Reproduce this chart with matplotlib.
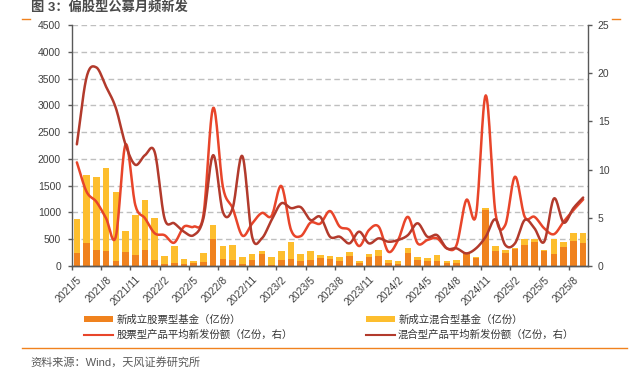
import numpy as np
import matplotlib
matplotlib.use("Agg")
from matplotlib import pyplot as plt
from matplotlib.lines import Line2D
from matplotlib.patches import Patch

plt.rcParams["font.family"] = ["Liberation Sans", "Noto Sans CJK SC"]

# 月份 2021/5 - 2025/9
months = [
    "2021/5", "2021/6", "2021/7", "2021/8", "2021/9", "2021/10", "2021/11", "2021/12",
    "2022/1", "2022/2", "2022/3", "2022/4", "2022/5", "2022/6", "2022/7", "2022/8",
    "2022/9", "2022/10", "2022/11", "2022/12", "2023/1", "2023/2", "2023/3", "2023/4",
    "2023/5", "2023/6", "2023/7", "2023/8", "2023/9", "2023/10", "2023/11", "2023/12",
    "2024/1", "2024/2", "2024/3", "2024/4", "2024/5", "2024/6", "2024/7", "2024/8",
    "2024/9", "2024/10", "2024/11", "2024/12", "2025/1", "2025/2", "2025/3", "2025/4",
    "2025/5", "2025/6", "2025/7", "2025/8", "2025/9",
]

# 新成立股票型基金（亿份）
stock_new = [237, 425, 300, 281, 100, 269, 200, 300, 112, 31, 50, 30, 50, 81, 506, 125,
             112, 31, 112, 220, 19, 120, 137, 87, 112, 143, 137, 87, 187, 50, 162, 187,
             50, 37, 249, 112, 100, 100, 62, 62, 235, 156, 1050, 286, 249, 311, 385, 455,
             274, 225, 358, 470, 428]
# 新成立混合型基金（亿份）
hybrid_new = [638, 1281, 1369, 1556, 1287, 393, 744, 931, 788, 150, 325, 101, 50, 156, 256, 250,
              282, 134, 113, 63, 141, 166, 313, 138, 163, 62, 50, 75, 80, 37, 62, 112,
              56, 50, 81, 50, 49, 99, 25, 44, 15, 12, 35, 87, 50, 19, 115, 45,
              25, 280, 97, 141, 196]
# 股票型产品平均新发份额（亿份，右）
stock_avg = [10.75, 7.7, 6.67, 4.95, 3.04, 12.6, 6.33, 4.95, 3.39, 3.2, 2.42, 4.08, 4.08,
             5.3, 16.4, 8.2, 6.0, 3.15, 4.4, 5.5, 5.2, 8.3, 3.73, 3.1, 4.5, 4.4, 5.7, 4.08,
             3.73, 2.07, 3.73, 4.08, 1.48, 2.7, 5.1, 2.35, 2.7, 2.87, 1.83, 2.18, 6.85, 5.3,
             17.7, 5.47, 4.25, 9.26, 5.1, 5.1, 3.91, 3.3, 4.6, 5.8, 6.9]
# 混合型产品平均新发份额（亿份，右）
hybrid_avg = [12.62, 19.6, 20.6, 18.6, 16.4, 12.6, 10.5, 11.5, 11.8, 4.95, 4.43, 3.56, 3.2,
              4.95, 11.5, 5.6, 6.0, 11.4, 3.04, 2.87, 4.77, 6.5, 6.0, 6.1, 4.77, 5.1, 3.04,
              3.04, 2.35, 3.56, 2.35, 2.87, 2.52, 2.7, 3.2, 4.43, 3.04, 3.2, 1.83, 1.83, 1.31,
              1.83, 3.04, 4.84, 2.18, 2.35, 4.77, 3.91, 2.52, 7.0, 4.5, 6.0, 7.1]

c_stock = "#F0821E"
c_hybrid = "#FDBE2E"
c_stock_line = "#E8452A"
c_hybrid_line = "#B23A2C"
c_axis = "#595959"


def smooth(y, n=16):
    # catmull-rom 平滑线，类似 excel 的平滑曲线
    y = np.asarray(y, float)
    p = np.concatenate([[2 * y[0] - y[1]], y, [2 * y[-1] - y[-2]]])
    t = np.linspace(0, 1, n, endpoint=False)
    xs, ys = [], []
    for i in range(len(y) - 1):
        p0, p1, p2, p3 = p[i], p[i + 1], p[i + 2], p[i + 3]
        seg = 0.5 * (2 * p1 + (p2 - p0) * t + (2 * p0 - 5 * p1 + 4 * p2 - p3) * t ** 2
                     + (3 * p1 - p0 - 3 * p2 + p3) * t ** 3)
        xs.append(i + t)
        ys.append(seg)
    xs.append([len(y) - 1])
    ys.append([y[-1]])
    return np.concatenate(xs), np.concatenate(ys)


x = np.arange(len(months))

fig = plt.figure(figsize=(6.35, 3.81), dpi=100)
ax1 = fig.add_axes([72 / 635, 1 - 266 / 381, 516 / 635, 241 / 381])

ax1.bar(x, stock_new, width=0.68, color=c_stock, zorder=2)
ax1.bar(x, hybrid_new, width=0.68, bottom=stock_new, color=c_hybrid, zorder=2)
ax1.set_ylim(0, 4500)
ax1.set_yticks(np.arange(0, 4501, 500))
ax1.set_xlim(-0.5, len(months) - 0.5)
ax1.yaxis.grid(True, color="#BFBFBF", linestyle=(0, (4, 2.5)), linewidth=1, zorder=0)
ax1.set_axisbelow(True)

ax2 = ax1.twinx()
sx, sy = smooth(stock_avg)
ax2.plot(sx, sy, color=c_stock_line, lw=1.8, solid_capstyle="round")
hx, hy = smooth(hybrid_avg)
ax2.plot(hx, hy, color=c_hybrid_line, lw=1.8, solid_capstyle="round")
ax2.set_ylim(0, 25)
ax2.set_yticks(np.arange(0, 26, 5))

for a in (ax1, ax2):
    a.spines["top"].set_visible(False)
    for s in ("left", "right", "bottom"):
        a.spines[s].set_color(c_axis)
        a.spines[s].set_linewidth(1)
ax1.spines["right"].set_visible(False)
ax2.spines["left"].set_visible(False)

ax1.tick_params(axis="y", length=3, width=1, color=c_axis, pad=5, labelsize=7.5, labelcolor="#404040")
ax2.tick_params(axis="y", length=3, width=1, color=c_axis, pad=4, labelsize=7.5, labelcolor="#404040")

lab_pos = x[::3]
ax1.set_xticks(lab_pos)
ax1.set_xticklabels(months[::3], rotation=45, ha="right", rotation_mode="anchor",
                    fontsize=7.5, color="#404040")
ax1.tick_params(axis="x", which="major", length=0, pad=6)
ax1.set_xticks(lab_pos - 0.5, minor=True)
ax1.tick_params(axis="x", which="minor", length=3, width=1, color=c_axis)

# 图例
handles = [
    Patch(facecolor=c_stock, edgecolor="none"),
    Line2D([], [], color=c_stock_line, lw=1.5),
    Patch(facecolor=c_hybrid, edgecolor="none"),
    Line2D([], [], color=c_hybrid_line, lw=1.5),
]
labels = [
    "新成立股票型基金（亿份）",
    "股票型产品平均新发份额（亿份，右）",
    "新成立混合型基金（亿份）",
    "混合型产品平均新发份额（亿份，右）",
]
fig.legend(handles, labels, loc="upper left", bbox_to_anchor=(79 / 635, 1 - 309 / 381),
           ncol=2, frameon=False, fontsize=7.5, handlelength=2.8, handleheight=0.5,
           handletextpad=0.3, columnspacing=7.0, labelspacing=0.5, borderpad=0,
           labelcolor="#333333")

fig.text(31 / 635, 1 - 7 / 381, "图 3：偏股型公募月频新发", fontsize=9.5, fontweight="bold",
         color="#4a4a4a", va="center")
fig.add_artist(Line2D([22 / 635, 30 / 635], [1 - 19 / 381, 1 - 19 / 381], color=c_stock, lw=1))
fig.add_artist(Line2D([612 / 635, 620 / 635], [1 - 19 / 381, 1 - 19 / 381], color=c_stock, lw=1))
fig.add_artist(Line2D([22 / 635, 627 / 635], [1 - 347.5 / 381, 1 - 347.5 / 381], color=c_stock, lw=1))
fig.text(30 / 635, 1 - 362 / 381, "资料来源：Wind，天风证券研究所", fontsize=8,
         color="#595959", va="center")

fig.savefig("out.png", dpi=100)
